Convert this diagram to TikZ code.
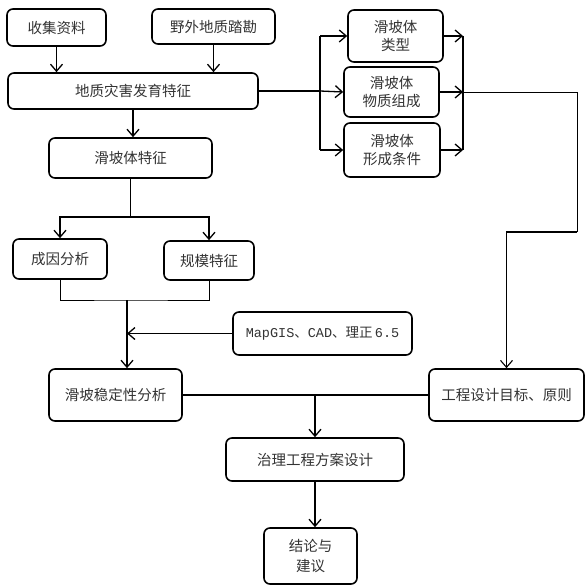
\documentclass[tikz,border=0pt]{standalone}
\usepackage{fontspec}
\setmainfont{Noto Sans CJK SC}
\newfontfamily\latinmono{Liberation Mono}
\usepackage{xcolor}
\usepackage{tikz}
\usetikzlibrary{positioning, arrows.meta, calc}
\definecolor{txtgray}{HTML}{333333}

\begin{document}
\begin{tikzpicture}[
  x=1pt, y=-1pt,
  box/.style={rectangle, draw, rounded corners=6pt, line width=1.6pt, fill=white, align=center, text=txtgray, font=\fontsize{14.5}{18}\selectfont, inner sep=2pt},
  link/.style={-{Straight Barb[length=7pt, width=12pt]}, line width=1.3pt},
  line/.style={line width=1.3pt},
  thinline/.style={line width=0.9pt},
  bar/.style={line width=2.2pt}
]
\useasboundingbox (0,0) rectangle (585,588);

% ===== Inputs =====
\node[box, minimum width=99pt, minimum height=37pt] (collect) at (56.5, 27.5) {收集资料};
\node[box, minimum width=123pt, minimum height=35pt] (survey) at (213.5, 26.5) {野外地质踏勘};

% ===== Hazard features =====
\node[box, minimum width=250pt, minimum height=36pt] (hazard) at (133, 91) {地质灾害发育特征};
\node[box, minimum width=163pt, minimum height=40pt] (slide) at (130.5, 158) {滑坡体特征};

% ===== Landslide body details =====
\node[box, minimum width=95pt, minimum height=52pt] (type)   at (395.5, 36) {滑坡体\\类型};
\node[box, minimum width=95pt, minimum height=50pt] (matter) at (391.5, 92) {滑坡体\\物质组成};
\node[box, minimum width=96pt, minimum height=54pt] (cond)   at (392, 150) {滑坡体\\形成条件};

% ===== Analysis =====
\node[box, minimum width=94pt, minimum height=40pt] (cause) at (60, 259) {成因分析};
\node[box, minimum width=90pt, minimum height=39pt] (scale) at (209, 260.5) {规模特征};
\node[box, minimum width=179pt, minimum height=43pt, font=\fontsize{13.5}{17}\selectfont] (tools) at (322.5, 333.5) {{\latinmono MapGIS}、{\latinmono CAD}、理正\,{\latinmono 6.5}};
\node[box, minimum width=133pt, minimum height=52pt] (stab) at (115.5, 395) {滑坡稳定性分析};
\node[box, minimum width=155pt, minimum height=52pt] (goal) at (506.5, 395) {工程设计目标、原则};

% ===== Design and conclusion =====
\node[box, minimum width=178pt, minimum height=43pt] (plan)  at (315, 459.5) {治理工程方案设计};
\node[box, minimum width=93pt, minimum height=56pt, font=\fontsize{14.5}{20}\selectfont] (concl) at (310.5, 556) {结论与\\建议};

% ===== Junction points =====
\coordinate (fork)  at (320, 91);
\coordinate (join)  at (463, 92);
\coordinate (bendR) at (577, 232);
\coordinate (split) at (130.5, 217);
\coordinate (merge) at (127, 300);

% ===== Links =====
\draw[link] (collect.south) -- (collect.south |- hazard.north);
\draw[link] (survey.south) -- (survey.south |- hazard.north);
\draw[link] (hazard.south) -- (hazard.south |- slide.north);

\draw[line] (hazard.east) -- (fork);
\draw[line] (fork |- type.west) -- (fork |- cond.west);
\draw[link] (fork |- type.west) -- (type.west);
\draw[link] (fork) -- (matter.west);
\draw[link] (fork |- cond.west) -- (cond.west);

\draw[bar] (join |- type.east) -- (join |- cond.east);
\foreach \n in {type,matter,cond}{\draw[link] (\n.east) -- (\n.east -| join);}
\draw[thinline] (join) -| (bendR);
\draw[link, line width=1.1pt] (bendR) -| (goal.north);

\draw[line] (slide.south) -- (split);
\draw[link] (split) -| (cause.north);
\draw[link] (split) -| (scale.north);
\draw[thinline] (cause.south) |- (merge) -| (scale.south);
\draw[link] (merge) -- (merge |- stab.north);
\draw[link] (tools.west) -- (tools.west -| merge);

\draw[line] (stab.east) -- (goal.west);
\draw[link] (plan.north |- stab.east) -- (plan.north);
\draw[link] (plan.south) -- (plan.south |- concl.north);

\end{tikzpicture}
\end{document}
